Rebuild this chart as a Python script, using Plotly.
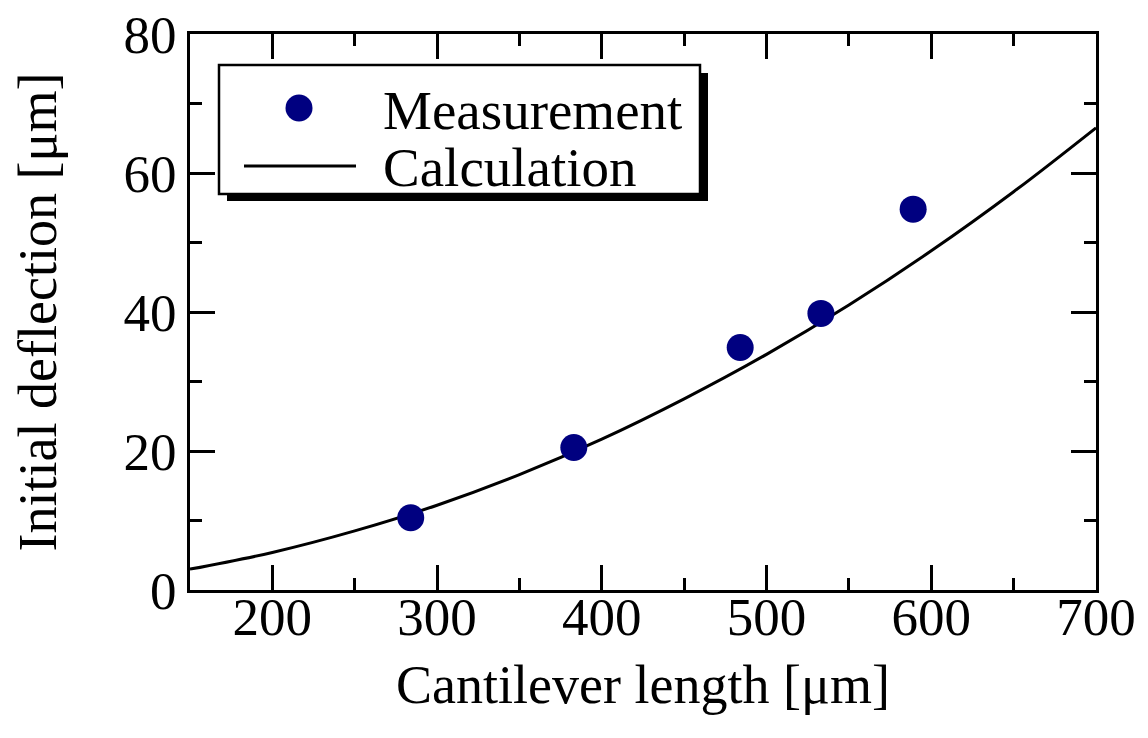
import plotly.graph_objects as go

meas_length = [284, 383, 484, 533, 589]
meas_deflection = [10.4, 20.5, 34.9, 39.8, 54.8]

# Calculation curve
calc_length = [150, 200, 250, 300, 350, 400, 450, 500, 550, 600, 650, 700]
calc_deflection = [3.0, 5.4, 8.5, 12.2, 16.6, 21.7, 27.5, 33.9, 41.0, 48.8, 57.3, 66.5]

x_ticks = [200, 300, 400, 500, 600, 700]
y_ticks = [0, 20, 40, 60, 80]

FONT = "Liberation Serif"
W, H = 1148, 738
PW, PH = 906, 556
L, T = 182, 26
R, B = W - L - PW, H - T - PH
OX, OY = 188, 32  # target screen position of plot-area top-left

def px(x):
    return (x - OX) / PW

def py(y):
    return (OY + PH - y) / PH

fig = go.Figure()
fig.add_trace(go.Scatter(x=calc_length, y=calc_deflection, mode="lines",
                         line=dict(color="black", width=3, shape="spline"),
                         name="Calculation", showlegend=False))
fig.add_trace(go.Scatter(x=meas_length, y=meas_deflection, mode="markers",
                         marker=dict(color="#000080", size=27),
                         name="Measurement", showlegend=False))

axis_common = dict(
    showgrid=False, zeroline=False, showline=True, linecolor="black", linewidth=3,
    mirror="ticks", ticks="inside", ticklen=25, tickwidth=2.5, tickcolor="black",
    tickfont=dict(family=FONT, size=53, color="black"), automargin=False,
    ticklabeloverflow="allow",
)

fig.update_xaxes(range=[150, 700], tickvals=x_ticks, ticktext=[str(v) for v in x_ticks],
                 minor=dict(ticks="inside", ticklen=12, tickwidth=2.5, tickcolor="black", dtick=50),
                 ticklabelstandoff=-22,
                 title=dict(text="Cantilever length [μm]", font=dict(family=FONT, size=54, color="black"), standoff=21),
                 **axis_common)
fig.update_yaxes(range=[0, 80], tickvals=y_ticks, ticktext=[str(v) for v in y_ticks],
                 minor=dict(ticks="inside", ticklen=12, tickwidth=2.5, tickcolor="black", dtick=10),
                 title=dict(text="Initial deflection [μm]", font=dict(family=FONT, size=54, color="black"), standoff=53),
                 **axis_common)

# Manual legend box with drop shadow
shapes = [
    dict(type="rect", xref="paper", yref="paper", x0=px(225), x1=px(706), y0=py(199), y1=py(71),
         fillcolor="black", line=dict(width=0), layer="above"),
    dict(type="rect", xref="paper", yref="paper", x0=px(217), x1=px(698), y0=py(192), y1=py(63),
         fillcolor="white", line=dict(color="black", width=2.5), layer="above"),
    dict(type="line", xref="paper", yref="paper", x0=px(242), x1=px(354), y0=py(164), y1=py(164),
         line=dict(color="black", width=3), layer="above"),
    dict(type="circle", xref="paper", yref="paper", xsizemode="pixel", ysizemode="pixel",
         xanchor=px(297), yanchor=py(106), x0=-13.5, x1=13.5, y0=-13.5, y1=13.5,
         fillcolor="#000080", line=dict(width=0), layer="above"),
]
annotations = [
    dict(text="Measurement", xref="paper", yref="paper", x=px(379), y=py(108),
         xanchor="left", yanchor="middle", showarrow=False,
         font=dict(family=FONT, size=55, color="black")),
    dict(text="Calculation", xref="paper", yref="paper", x=px(379), y=py(166),
         xanchor="left", yanchor="middle", showarrow=False,
         font=dict(family=FONT, size=55, color="black")),
]

fig.update_layout(width=W, height=H, margin=dict(l=L, r=R, t=T, b=B),
                  plot_bgcolor="white", paper_bgcolor="white",
                  shapes=shapes, annotations=annotations, showlegend=False)

fig.write_html("out.html")
